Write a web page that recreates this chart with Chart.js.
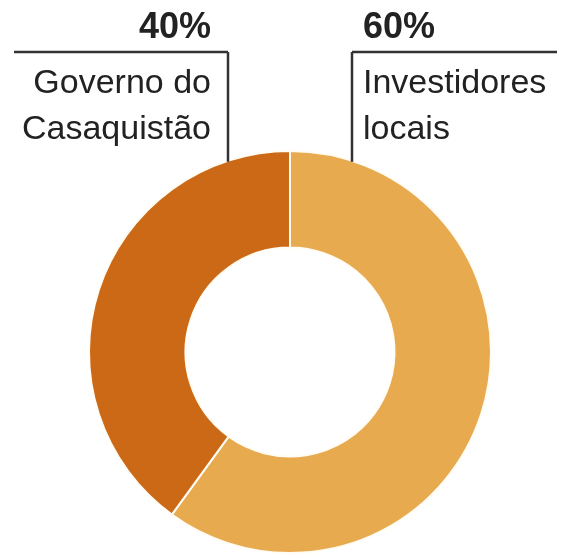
<!DOCTYPE html>
<html>
<head>
<meta charset="utf-8">
<script src="https://cdn.jsdelivr.net/npm/chart.js@4/dist/chart.umd.min.js"></script>
<style>
    html, body { margin: 0; padding: 0; background: #fff; }
    canvas { display: block; }
</style>
</head>
<body>
<canvas id="chart" width="564" height="558"></canvas>
<script>
// data
const categories = ['Investidores locais', 'Governo do Casaquistão']
const shares = [60, 40]
const shareLabels = ['60%', '40%']
const nameLines = [['Investidores', 'locais'], ['Governo do', 'Casaquistão']]

const sliceColors = ['#E8AA4F', '#CB6916']
const ink = '#222222'

// leader line + label for each slice, anchored on the arc geometry
const leaders = {
    id: 'leaders',
    afterDraw(chart) {
        const ctx = chart.ctx
        const arc = chart.getDatasetMeta(0).data[0]
        const cx = arc.x, cy = arc.y, r = arc.outerRadius
        const ruleY = 52

        const sides = [
            { dx: 62, from: 352, to: 557, textX: 363, align: 'left' },   // Investidores
            { dx: -62, from: 14, to: 228, textX: 211, align: 'right' },  // Governo
        ]

        ctx.save()
        ctx.strokeStyle = '#333'
        ctx.lineWidth = 2.5
        ctx.fillStyle = ink
        sides.forEach((side, i) => {
            const lx = cx + side.dx
            const ly = cy - Math.sqrt(r * r - side.dx * side.dx)
            ctx.beginPath()
            ctx.moveTo(side.from, ruleY)
            ctx.lineTo(side.to, ruleY)
            ctx.stroke()
            ctx.beginPath()
            ctx.moveTo(lx, ruleY)
            ctx.lineTo(lx, ly + 1)
            ctx.stroke()

            ctx.textAlign = side.align
            ctx.textBaseline = 'alphabetic'
            ctx.font = 'bold 36px "Liberation Sans", Arial, sans-serif'
            ctx.fillText(shareLabels[i], side.textX, 38)
            ctx.font = '34px "Liberation Sans", Arial, sans-serif'
            nameLines[i].forEach((line, j) => ctx.fillText(line, side.textX, 93 + j * 46))
        })
        ctx.restore()
    }
}

new Chart(document.getElementById('chart'), {
    type: 'doughnut',
    data: {
        labels: categories,
        datasets: [{
            data: shares,
            backgroundColor: sliceColors,
            borderColor: '#FFFCF4',
            borderWidth: 2,
            hoverOffset: 0,
        }]
    },
    options: {
        responsive: false,
        animation: false,
        cutout: '52%',
        rotation: 0,
        layout: { padding: { left: 88, right: 72, top: 150, bottom: 4 } },
        plugins: {
            legend: { display: false },
            tooltip: { enabled: false },
        },
    },
    plugins: [leaders]
})
</script>
</body>
</html>
